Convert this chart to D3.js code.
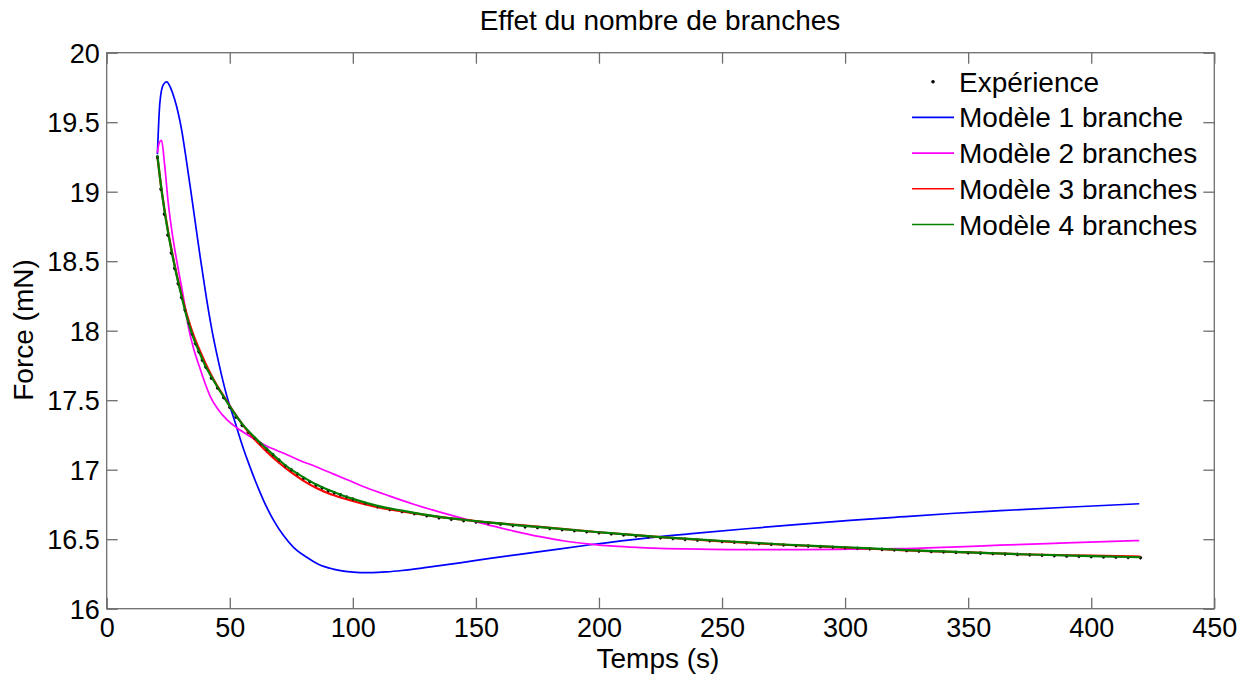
<!DOCTYPE html>
<html>
<head>
<meta charset="utf-8">
<script src="https://cdn.jsdelivr.net/npm/d3@7"></script>
<style>
  html, body { margin: 0; padding: 0; background: #fff; }
  svg { display: block; }
  text { font-family: "Liberation Sans", Arial, Helvetica, sans-serif; fill: #000; }
</style>
</head>
<body>
<svg id="chart" width="1251" height="677"></svg>
<script>
// ---- Data ----
const title = "Effet du nombre de branches";
const xLabel = "Temps (s)";
const yLabel = "Force (mN)";
const xTicks = [0, 50, 100, 150, 200, 250, 300, 350, 400, 450];
const yTicks = [16, 16.5, 17, 17.5, 18, 18.5, 19, 19.5, 20];
const seriesNames = ["Expérience", "Modèle 1 branche", "Modèle 2 branches", "Modèle 3 branches", "Modèle 4 branches"];
const seriesColors = ["#000000", "#0000ff", "#ff00ff", "#ff0000", "#008000"];

// Experimental measurements [time s, force mN]
const experience = [
  [20.6,19.25],[22.0,19.02],[23.4,18.84],[24.8,18.69],[26.2,18.56],[27.6,18.45],[29.0,18.34],[30.4,18.24],
  [31.8,18.15],[33.2,18.06],[34.6,17.98],[36.0,17.91],[37.4,17.85],[38.8,17.79],[40.2,17.74],[42.5,17.66],
  [45,17.59],[47.5,17.52],[50,17.45],[52.5,17.38],[55,17.32],[57.5,17.27],[60,17.23],[62.5,17.19],
  [65,17.15],[67.5,17.11],[70,17.07],[72.5,17.03],[75,17.00],[77.5,16.97],[80,16.94],[82.5,16.915],
  [85,16.89],[87.5,16.87],[90,16.85],[92.5,16.835],[95,16.82],[97.5,16.805],[100,16.79],[105,16.76],
  [110,16.735],[115,16.715],[120,16.70],[125,16.685],[130,16.67],[135,16.655],[140,16.645],[145,16.635],
  [150,16.625],[155,16.615],[160,16.61],[165,16.60],[170,16.59],[175,16.585],[180,16.578],[185,16.57],
  [190,16.563],[195,16.555],[200,16.548],[205,16.54],[210,16.532],[215,16.525],[220,16.518],[225,16.512],
  [230,16.506],[235,16.50],[240,16.495],[245,16.49],[250,16.485],[255,16.48],[260,16.475],[265,16.47],
  [270,16.465],[275,16.46],[280,16.456],[285,16.452],[290,16.448],[295,16.444],[300,16.44],[305,16.436],
  [310,16.432],[315,16.428],[320,16.424],[325,16.42],[330,16.416],[335,16.413],[340,16.41],[345,16.407],
  [350,16.404],[355,16.401],[360,16.398],[365,16.395],[370,16.392],[375,16.389],[380,16.386],[385,16.383],
  [390,16.38],[395,16.378],[400,16.376],[405,16.374],[410,16.372],[415,16.37],[420,16.368]
];

const modele1 = [
  [20.6,19.27],[21.6,19.64],[23.0,19.77],[24.4,19.79],[26.0,19.745],[27.5,19.67],[29.0,19.57],[30.5,19.44],
  [32.0,19.27],[33.9,19.04],[35.9,18.79],[37.9,18.54],[40.3,18.26],[42.8,18.00],[45.5,17.77],[48.8,17.53],
  [52,17.35],[55,17.18],[58.2,17.02],[62,16.85],[65,16.73],[68,16.63],[71.7,16.53],[76,16.44],
  [81.3,16.37],[86,16.32],[92,16.285],[97,16.268],[102.9,16.26],[108,16.26],[113.8,16.265],[120,16.275],
  [130,16.297],[143.5,16.33],[155.7,16.362],[176,16.41],[196.4,16.46],[220,16.51],[241,16.545],[260,16.575],
  [280,16.605],[302,16.635],[322,16.66],[343,16.685],[363,16.705],[390,16.73],[419.5,16.755]
];

const modele2 = [
  [20.6,19.28],[21.3,19.35],[22.3,19.37],[23.5,19.20],[25,18.92],[26.3,18.74],[27.7,18.58],[29.1,18.44],
  [31,18.26],[33.5,18.00],[35.5,17.86],[37.9,17.73],[40,17.62],[42,17.53],[45,17.44],[48.8,17.36],
  [53,17.30],[58.2,17.24],[65,17.17],[71.7,17.12],[78,17.07],[85.3,17.02],[92,16.97],[98.8,16.92],
  [105.6,16.87],[115,16.81],[125,16.75],[135.4,16.695],[143.5,16.655],[155.7,16.60],[165,16.56],[176,16.518],
  [186,16.487],[196.4,16.465],[206,16.45],[216.7,16.44],[241,16.428],[257.3,16.425],[281.7,16.425],[302,16.428],
  [322.3,16.432],[343,16.443],[362.9,16.457],[390,16.473],[419.5,16.49]
];

const modele3 = [
  [20.6,19.25],[22,19.05],[23.5,18.87],[25,18.71],[26.5,18.57],[28,18.44],[30,18.29],[32.5,18.12],
  [35,17.98],[37.5,17.87],[40,17.77],[42.5,17.68],[45,17.60],[47.5,17.53],[50,17.46],[55,17.33],
  [60,17.22],[65,17.13],[70,17.05],[75,16.98],[80,16.92],[85,16.87],[90,16.83],[95,16.80],
  [100,16.775],[110,16.73],[120,16.70],[135,16.66],[150,16.63],[175,16.59],[200,16.55],[225,16.515],
  [250,16.485],[275,16.46],[300,16.44],[325,16.42],[350,16.405],[375,16.39],[400,16.382],[420,16.375]
];

const modele4 = [
  [20.6,19.26],[22,19.05],[23.5,18.86],[25,18.70],[26.5,18.56],[28,18.43],[30,18.28],[32.5,18.10],
  [35,17.96],[37.5,17.85],[40,17.75],[42.5,17.67],[45,17.595],[47.5,17.525],[50,17.455],[55,17.33],
  [60,17.235],[65,17.15],[70,17.07],[75,17.00],[80,16.945],[85,16.895],[90,16.855],[95,16.82],
  [100,16.79],[110,16.74],[120,16.705],[135,16.66],[150,16.63],[175,16.588],[200,16.55],[225,16.515],
  [250,16.487],[275,16.462],[300,16.442],[325,16.422],[350,16.405],[375,16.39],[400,16.378],[420,16.37]
];

// ---- Layout ----
const svg = d3.select("#chart");
const mLeft = 106.7, mRight = 1214.3, mTop = 52.7, mBottom = 608.7;
const x = d3.scaleLinear().domain([0, 450]).range([mLeft, mRight]);
const y = d3.scaleLinear().domain([16, 20]).range([mBottom, mTop]);
const axisColor = "#6e6e6e";
const tickLen = 11;
const fontSize = 27;

// Plot frame
svg.append("rect")
  .attr("x", mLeft).attr("y", mTop)
  .attr("width", mRight - mLeft).attr("height", mBottom - mTop)
  .attr("fill", "#fff").attr("stroke", axisColor).attr("stroke-width", 1.3);

// Axes with inward ticks
const gx = svg.append("g").attr("transform", `translate(0,${mBottom})`)
  .call(d3.axisBottom(x).tickValues(xTicks).tickSize(-tickLen).tickFormat(d3.format("d")));
const gxTop = svg.append("g").attr("transform", `translate(0,${mTop})`)
  .call(d3.axisTop(x).tickValues(xTicks).tickSize(-tickLen).tickFormat(""));
const gy = svg.append("g").attr("transform", `translate(${mLeft},0)`)
  .call(d3.axisLeft(y).tickValues(yTicks).tickSize(-tickLen).tickFormat(d => String(d)));
const gyRight = svg.append("g").attr("transform", `translate(${mRight},0)`)
  .call(d3.axisRight(y).tickValues(yTicks).tickSize(-tickLen).tickFormat(""));

[gx, gxTop, gy, gyRight].forEach(g => {
  g.select(".domain").remove();
  g.selectAll(".tick line").attr("stroke", axisColor).attr("stroke-width", 1.3);
  g.selectAll(".tick text")
    .style("font-family", '"Liberation Sans", Arial, sans-serif')
    .style("font-size", fontSize + "px").attr("fill", "#000");
});
gx.selectAll(".tick text").attr("dy", "0.71em").attr("y", 9);
gy.selectAll(".tick text").attr("dy", "0.36em").attr("x", -7);

// Series
const line = d3.line().x(d => x(d[0])).y(d => y(d[1])).curve(d3.curveMonotoneX);
const models = [modele1, modele2, modele3, modele4];
const plot = svg.append("g");

plot.append("g").selectAll("circle").data(experience).join("circle")
  .attr("cx", d => x(d[0])).attr("cy", d => y(d[1])).attr("r", 1.6)
  .attr("fill", seriesColors[0]);

models.forEach((m, i) => {
  plot.append("path").datum(m)
    .attr("d", line)
    .attr("fill", "none")
    .attr("stroke", seriesColors[i + 1])
    .attr("stroke-width", i >= 2 ? 2.2 : 1.7)
    .attr("stroke-linejoin", "round");
});

plot.append("g").selectAll("circle").data(experience).join("circle")
  .attr("cx", d => x(d[0])).attr("cy", d => y(d[1]) + 1.2).attr("r", 0.9)
  .attr("fill", seriesColors[0]).attr("opacity", 0.7);

// Legend
const legend = svg.append("g");
const legRowY = [81.7, 117.4, 153.1, 188.8, 224.5];
seriesNames.forEach((name, i) => {
  const ry = legRowY[i];
  if (i === 0) {
    legend.append("circle").attr("cx", 933).attr("cy", ry).attr("r", 1.8).attr("fill", seriesColors[0]);
  } else {
    legend.append("line").attr("x1", 912).attr("x2", 954).attr("y1", ry).attr("y2", ry)
      .attr("stroke", seriesColors[i]).attr("stroke-width", 1.6);
  }
  legend.append("text").attr("x", 959).attr("y", ry).attr("dy", "0.36em")
    .style("font-size", "28px").text(name);
});

// Title and labels
svg.append("text").attr("x", 660).attr("y", 30).attr("text-anchor", "middle")
  .style("font-size", "28px").text(title);
svg.append("text").attr("x", 658).attr("y", 668).attr("text-anchor", "middle")
  .style("font-size", "28px").text(xLabel);
svg.append("text").attr("transform", "translate(33,330) rotate(-90)").attr("text-anchor", "middle")
  .style("font-size", "28px").text(yLabel);
</script>
</body>
</html>
